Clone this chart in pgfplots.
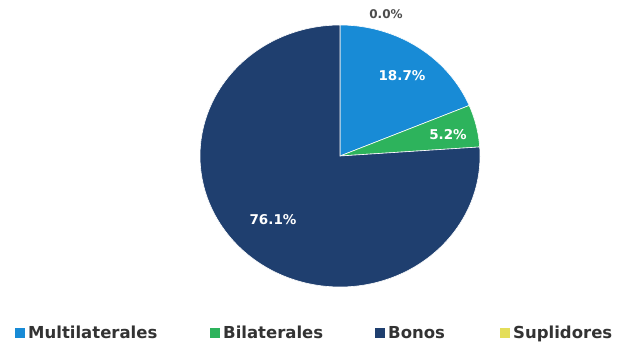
\documentclass[border=0pt]{standalone}
\usepackage{pgfplots}
\pgfplotsset{compat=1.18}
\usepackage{fontspec}
\setmainfont{DejaVu Sans}
\definecolor{cMulti}{HTML}{188BD6}
\definecolor{cBil}{HTML}{2DB35C}
\definecolor{cBon}{HTML}{1F3F6F}
\definecolor{cSup}{HTML}{E4DE5A}
\begin{document}
\begin{tikzpicture}
\begin{axis}[
  scale only axis, width=623pt, height=343pt,
  xmin=0, xmax=623, ymin=0, ymax=343,
  hide axis, clip=false,
]
\path (axis cs:0,0) rectangle (axis cs:623,343);
% values: Multilaterales 18.7, Bilaterales 5.2, Bonos 76.1, Suplidores 0.0
% start at 90 deg, clockwise: 360*value/100
\addplot[fill=cMulti, draw=white, line width=0.6pt, domain=22.68:90, samples=60]
  ({340+140*cos(x)},{187+131*sin(x)}) -- (axis cs:340,187) -- cycle;
\addplot[fill=cBil, draw=white, line width=0.6pt, domain=3.96:22.68, samples=30]
  ({340+140*cos(x)},{187+131*sin(x)}) -- (axis cs:340,187) -- cycle;
\addplot[fill=cBon, draw=white, line width=0.6pt, domain=-270:3.96, samples=200]
  ({340+140*cos(x)},{187+131*sin(x)}) -- (axis cs:340,187) -- cycle;

\node[font=\bfseries\fontsize{12}{12}\selectfont, text=black!70] at (axis cs:386,329) {0.0\%};
\node[font=\bfseries\fontsize{13.5}{13.5}\selectfont, text=white] at (axis cs:402,267) {18.7\%};
\node[font=\bfseries\fontsize{13.5}{13.5}\selectfont, text=white] at (axis cs:448,208) {5.2\%};
\node[font=\bfseries\fontsize{13.5}{13.5}\selectfont, text=white] at (axis cs:273,123) {76.1\%};

% legend
\fill[cMulti] (axis cs:15,5) rectangle (axis cs:25,15);
\node[anchor=base west, inner sep=0pt, font=\bfseries\fontsize{16.5}{16.5}\selectfont, text=black!80] at (axis cs:28,4.5) {Multilaterales};
\fill[cBil] (axis cs:210,5) rectangle (axis cs:220,15);
\node[anchor=base west, inner sep=0pt, font=\bfseries\fontsize{16.5}{16.5}\selectfont, text=black!80] at (axis cs:223,4.5) {Bilaterales};
\fill[cBon] (axis cs:375,5) rectangle (axis cs:385,15);
\node[anchor=base west, inner sep=0pt, font=\bfseries\fontsize{16.5}{16.5}\selectfont, text=black!80] at (axis cs:388,4.5) {Bonos};
\fill[cSup] (axis cs:500,5) rectangle (axis cs:510,15);
\node[anchor=base west, inner sep=0pt, font=\bfseries\fontsize{16.5}{16.5}\selectfont, text=black!80] at (axis cs:513,4.5) {Suplidores};
\end{axis}
\end{tikzpicture}
\end{document}
